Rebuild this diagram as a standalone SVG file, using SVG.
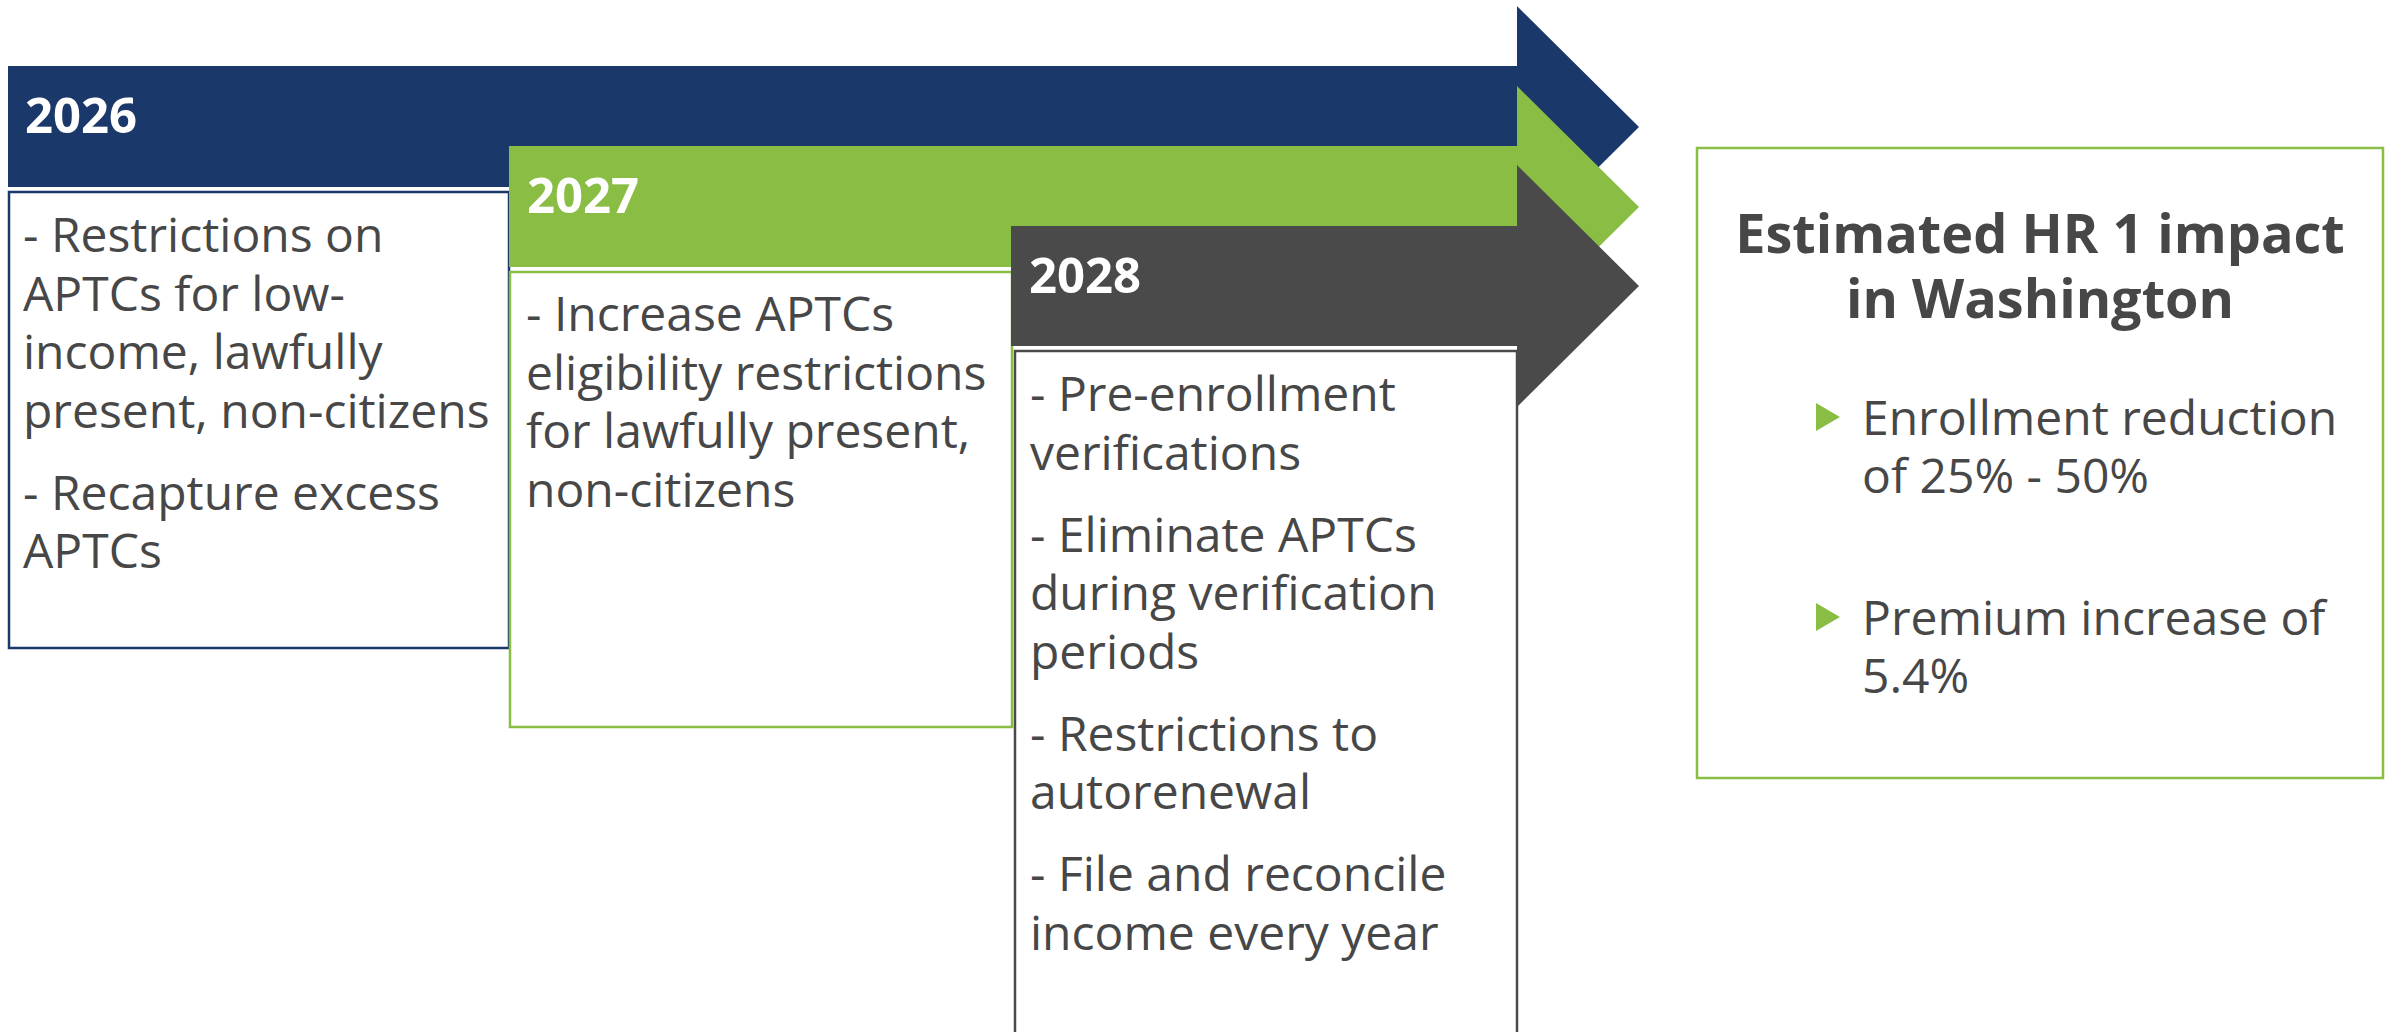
<svg xmlns="http://www.w3.org/2000/svg" width="2391" height="1032" viewBox="0 0 2391 1032">
<style>
.yr{font-family:"Open Sans","Noto Sans",sans-serif;font-weight:700;font-size:49px;fill:#ffffff}
.bd{font-family:"Open Sans","Noto Sans",sans-serif;font-size:48px;fill:#474747}
.tt{font-family:"Open Sans","Noto Sans",sans-serif;font-weight:700;font-size:54px;fill:#474747;text-anchor:middle}
.box{fill:#ffffff;stroke-width:2.5}
</style>
<rect width="2391" height="1032" fill="#ffffff"/>
<g id="node-2026">
<polygon points="8,66 1517,66 1517,6 1639,127 1517,248 1517,187 8,187" fill="#1b386b"/>
<rect class="box" x="9" y="192" width="500" height="456" stroke="#1b386b"/>
<text class="yr" x="25" y="133">2026</text>
<text class="bd" x="23"><tspan x="23" y="252">- Restrictions on</tspan><tspan x="23" y="310.5">APTCs for low-</tspan><tspan x="23" y="369">income, lawfully</tspan><tspan x="23" y="427.5">present, non-citizens</tspan><tspan x="23" y="509.5">- Recapture excess</tspan><tspan x="23" y="568">APTCs</tspan></text>
</g>
<g id="node-2027">
<polygon points="509,146 1517,146 1517,86 1639,207 1517,328 1517,267 509,267" fill="#89bd43"/>
<rect class="box" x="510" y="272" width="502" height="455" stroke="#89bd43"/>
<text class="yr" x="527" y="213">2027</text>
<text class="bd"><tspan x="526" y="331">- Increase APTCs</tspan><tspan x="526" y="389.5">eligibility restrictions</tspan><tspan x="526" y="448">for lawfully present,</tspan><tspan x="526" y="506.5">non-citizens</tspan></text>
</g>
<g id="node-2028">
<polygon points="1011,226 1517,226 1517,165 1639,286 1517,407 1517,346 1011,346" fill="#4a4a4a"/>
<rect class="box" x="1015" y="351" width="502" height="700" stroke="#4a4a4a"/>
<text class="yr" x="1029" y="293">2028</text>
<text class="bd"><tspan x="1030" y="411">- Pre-enrollment</tspan><tspan x="1030" y="469.5">verifications</tspan><tspan x="1030" y="551.5">- Eliminate APTCs</tspan><tspan x="1030" y="610">during verification</tspan><tspan x="1030" y="668.5">periods</tspan><tspan x="1030" y="750.5">- Restrictions to</tspan><tspan x="1030" y="809">autorenewal</tspan><tspan x="1030" y="891">- File and reconcile</tspan><tspan x="1030" y="949.5">income every year</tspan></text>
</g>
<g id="node-impact">
<rect x="1697" y="148" width="686" height="630" fill="#ffffff" stroke="#89bd43" stroke-width="2.5"/>
<text class="tt"><tspan x="2040" y="253">Estimated HR 1 impact</tspan><tspan x="2040" y="318">in Washington</tspan></text>
<polygon points="1816,403 1840,417 1816,431" fill="#89bd43"/>
<text class="bd"><tspan x="1862" y="435">Enrollment reduction</tspan><tspan x="1862" y="493">of 25% - 50%</tspan></text>
<polygon points="1816,603 1840,617 1816,631" fill="#89bd43"/>
<text class="bd"><tspan x="1862" y="635">Premium increase of</tspan><tspan x="1862" y="693">5.4%</tspan></text>
</g>
<g id="connectors"></g>
</svg>
